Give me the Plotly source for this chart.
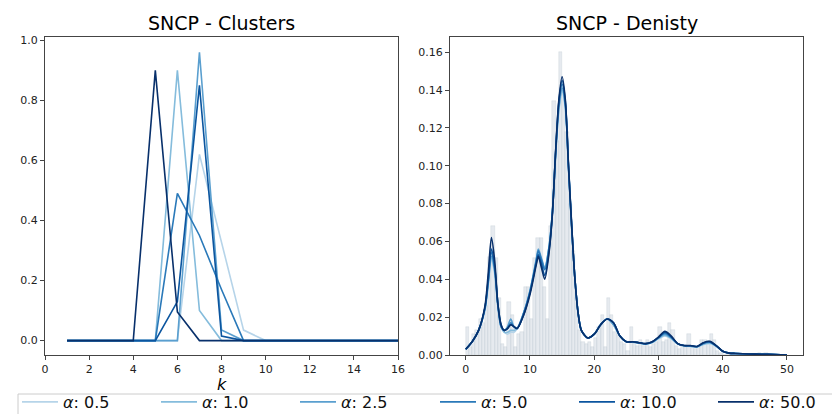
import plotly.graph_objects as go

# ---------------- data ----------------
alpha_labels = ["0.5", "1.0", "2.5", "5.0", "10.0", "50.0"]
colors = ["#b6d4e9", "#85bcdc", "#5a9fcf", "#2a79b9", "#0b559f", "#08306b"]

k_values = list(range(1, 17))
clusters_a05 = [0, 0, 0, 0, 0, 0, 0.62, 0.33, 0.035, 0, 0, 0, 0, 0, 0, 0]
clusters_a10 = [0, 0, 0, 0, 0, 0.90, 0.10, 0, 0, 0, 0, 0, 0, 0, 0, 0]
clusters_a25 = [0, 0, 0, 0, 0, 0, 0.96, 0.035, 0, 0, 0, 0, 0, 0, 0, 0]
clusters_a50 = [0, 0, 0, 0, 0, 0.49, 0.35, 0.17, 0, 0, 0, 0, 0, 0, 0, 0]
clusters_a100 = [0, 0, 0, 0, 0, 0.13, 0.85, 0.015, 0, 0, 0, 0, 0, 0, 0, 0]
clusters_a500 = [0, 0, 0, 0, 0.90, 0.095, 0, 0, 0, 0, 0, 0, 0, 0, 0, 0]

# histogram (density), bins of width 0.5 starting at 0
hist_bin_width = 0.5
hist_heights = [
    0.015, 0.004, 0.011, 0.013, 0.019, 0.017, 0.026, 0.052, 0.068, 0.051,   # 0-5
    0.030, 0.006, 0.004, 0.028, 0.021, 0.004, 0.011, 0.012, 0.036, 0.036,   # 5-10
    0.019, 0.051, 0.062, 0.062, 0.036, 0.019, 0.068, 0.134, 0.113, 0.160,   # 10-15
    0.141, 0.118, 0.080, 0.055, 0.030, 0.013, 0.007, 0.006, 0.007, 0.004,   # 15-20
    0.009, 0.015, 0.021, 0.004, 0.030, 0.021, 0.012, 0.011, 0.007, 0.006,   # 20-25
    0.002, 0.015, 0.007, 0.005, 0.008, 0.005, 0.008, 0.004, 0.006, 0.007,   # 25-30
    0.015, 0.007, 0.008, 0.017, 0.013, 0.005, 0.003, 0.005, 0.004, 0.011,   # 30-35
    0.005, 0.003, 0.004, 0.008, 0.008, 0.006, 0.011, 0.008, 0.002, 0.001,   # 35-40
    0.000, 0.000, 0.001, 0.000, 0.001, 0.000, 0.000, 0.000, 0.000, 0.000,   # 40-45
    0.000, 0.001, 0.000, 0.001, 0.000,                                      # 45-47.5
]

kde_x = [0, 1, 2, 3, 3.5, 4, 4.5, 5, 5.5, 6, 6.5, 7, 7.5, 8, 9, 10, 11, 11.3, 11.8, 12.3,
         13, 13.5, 14, 14.5, 15, 15.5, 16, 16.5, 17, 17.5, 18, 19, 20, 21, 22, 23, 24, 25,
         26, 27, 28, 29, 30, 31, 32, 33, 34, 35, 36, 37, 38, 39, 40, 41, 42, 44, 46, 48, 50]

kde_a05 = [0.003, 0.007, 0.013, 0.024, 0.037, 0.050, 0.043, 0.026, 0.015, 0.012, 0.011, 0.012, 0.012, 0.014,
           0.022, 0.034, 0.050, 0.054, 0.050, 0.046, 0.058, 0.076, 0.106, 0.129, 0.139, 0.130, 0.098,
           0.067, 0.040, 0.022, 0.013, 0.009, 0.011, 0.016, 0.019, 0.016, 0.010, 0.007, 0.0068, 0.0063,
           0.0058, 0.0065, 0.0085, 0.0100, 0.0085, 0.0058, 0.0048, 0.0045, 0.0042, 0.0055, 0.0060,
           0.0045, 0.0020, 0.0010, 0.0008, 0.0005, 0.0004, 0.0002, 0.0]
kde_a10 = [0.003, 0.007, 0.013, 0.024, 0.038, 0.051, 0.044, 0.026, 0.015, 0.012, 0.012, 0.013, 0.013, 0.014,
           0.022, 0.034, 0.050, 0.054, 0.050, 0.046, 0.058, 0.076, 0.106, 0.130, 0.140, 0.131, 0.099,
           0.067, 0.040, 0.022, 0.013, 0.009, 0.011, 0.016, 0.019, 0.016, 0.010, 0.007, 0.0068, 0.0063,
           0.0058, 0.0066, 0.0088, 0.0105, 0.0088, 0.0058, 0.0048, 0.0046, 0.0043, 0.0057, 0.0063,
           0.0046, 0.0020, 0.0010, 0.0008, 0.0005, 0.0004, 0.0002, 0.0]
kde_a25 = [0.003, 0.007, 0.013, 0.025, 0.038, 0.052, 0.045, 0.026, 0.015, 0.013, 0.015, 0.019, 0.015, 0.014,
           0.022, 0.034, 0.051, 0.056, 0.051, 0.046, 0.058, 0.076, 0.107, 0.131, 0.141, 0.132, 0.099,
           0.067, 0.040, 0.022, 0.013, 0.009, 0.011, 0.016, 0.019, 0.016, 0.010, 0.007, 0.0069, 0.0064,
           0.0059, 0.0067, 0.0090, 0.0110, 0.0090, 0.0059, 0.0049, 0.0047, 0.0044, 0.0060, 0.0066,
           0.0047, 0.0020, 0.0010, 0.0008, 0.0005, 0.0004, 0.0002, 0.0]
kde_a50 = [0.003, 0.007, 0.013, 0.025, 0.039, 0.054, 0.046, 0.027, 0.015, 0.013, 0.014, 0.017, 0.015, 0.014,
           0.022, 0.033, 0.050, 0.055, 0.050, 0.045, 0.057, 0.076, 0.107, 0.133, 0.143, 0.133, 0.099,
           0.067, 0.040, 0.022, 0.013, 0.009, 0.011, 0.016, 0.019, 0.017, 0.010, 0.007, 0.0069, 0.0064,
           0.0059, 0.0068, 0.0092, 0.0115, 0.0093, 0.0060, 0.0049, 0.0048, 0.0044, 0.0062, 0.0068,
           0.0048, 0.0020, 0.0010, 0.0008, 0.0005, 0.0004, 0.0002, 0.0]
kde_a100 = [0.003, 0.007, 0.013, 0.025, 0.040, 0.056, 0.047, 0.027, 0.016, 0.013, 0.014, 0.016, 0.015, 0.014,
            0.021, 0.033, 0.049, 0.053, 0.048, 0.042, 0.056, 0.075, 0.108, 0.134, 0.145, 0.134, 0.100,
            0.068, 0.040, 0.022, 0.013, 0.009, 0.011, 0.016, 0.019, 0.017, 0.010, 0.007, 0.0070, 0.0065,
            0.0060, 0.0069, 0.0093, 0.0120, 0.0096, 0.0060, 0.0050, 0.0049, 0.0045, 0.0064, 0.0070,
            0.0049, 0.0020, 0.0010, 0.0008, 0.0005, 0.0004, 0.0002, 0.0]
kde_a500 = [0.003, 0.007, 0.013, 0.026, 0.043, 0.062, 0.050, 0.027, 0.016, 0.013, 0.014, 0.016, 0.015, 0.014,
            0.021, 0.032, 0.048, 0.052, 0.046, 0.040, 0.055, 0.075, 0.108, 0.135, 0.147, 0.135, 0.100,
            0.068, 0.040, 0.022, 0.013, 0.009, 0.011, 0.016, 0.019, 0.017, 0.010, 0.007, 0.0070, 0.0065,
            0.0060, 0.0070, 0.0095, 0.0125, 0.0100, 0.0060, 0.0050, 0.0050, 0.0045, 0.0065, 0.0072,
            0.0050, 0.0020, 0.0010, 0.0008, 0.0005, 0.0004, 0.0002, 0.0]

cluster_series = [clusters_a05, clusters_a10, clusters_a25, clusters_a50, clusters_a100, clusters_a500]
kde_series = [kde_a05, kde_a10, kde_a25, kde_a50, kde_a100, kde_a500]

# ---------------- figure ----------------
W, H = 840, 414
fig = go.Figure()

hist_x = [i * hist_bin_width + hist_bin_width / 2 for i in range(len(hist_heights))]
fig.add_trace(go.Bar(
    x=hist_x, y=hist_heights, width=hist_bin_width,
    marker=dict(color="rgba(205,213,224,0.5)", line=dict(color="rgba(185,193,205,0.5)", width=0.5)),
    xaxis="x2", yaxis="y2", showlegend=False, hoverinfo="skip"))

for i, (lab, col, ys) in enumerate(zip(alpha_labels, colors, cluster_series)):
    fig.add_trace(go.Scatter(
        x=k_values, y=ys, mode="lines", line=dict(color=col, width=1.6),
        name="<i>α</i>: " + lab, xaxis="x", yaxis="y",
        legend="legend" if i < 3 else "legend2"))

for lab, col, ys in zip(alpha_labels, colors, kde_series):
    fig.add_trace(go.Scatter(
        x=kde_x, y=ys, mode="lines", line=dict(color=col, width=1.6, shape="spline", smoothing=0.8),
        name="<i>α</i>: " + lab, xaxis="x2", yaxis="y2", showlegend=False))

ax_common = dict(showline=True, mirror=True, linecolor="#444444", linewidth=1,
                 ticks="outside", ticklen=4, tickcolor="#444444", showgrid=False, zeroline=False,
                 tickfont=dict(size=11, color="#222222", family="DejaVu Sans"))
ydom = [67 / H, 385 / H]

leg_common = dict(orientation="h", xanchor="left", yanchor="top", y=(H - 377) / H,
                  borderwidth=0, bgcolor="rgba(0,0,0,0)", itemwidth=36,
                  font=dict(size=16, family="DejaVu Sans", color="#111111"),
                  entrywidth=88, entrywidthmode="pixels")

fig.update_layout(
    width=W, height=H, margin=dict(l=0, r=0, t=0, b=0, autoexpand=False),
    paper_bgcolor="white", plot_bgcolor="white",
    font=dict(family="DejaVu Sans", color="#111111"),
    bargap=0,
    xaxis=dict(domain=[37 / W, 390 / W], range=[0, 16], tickvals=list(range(0, 17, 2)), **ax_common),
    yaxis=dict(domain=ydom, range=[-0.048, 1.011], tickvals=[0, 0.2, 0.4, 0.6, 0.8, 1.0],
               ticktext=["0.0", "0.2", "0.4", "0.6", "0.8", "1.0"], anchor="x", **ax_common),
    xaxis2=dict(domain=[442 / W, 795 / W], range=[-2.45, 52.5], tickvals=[0, 10, 20, 30, 40, 50],
                anchor="y2", **ax_common),
    yaxis2=dict(domain=ydom, range=[0, 0.168], tickvals=[0, 0.02, 0.04, 0.06, 0.08, 0.10, 0.12, 0.14, 0.16],
                tickformat=".2f", anchor="x2", **ax_common),
    legend=dict(x=9 / W, **leg_common),
    legend2=dict(x=427 / W, **leg_common),
    shapes=[dict(type="rect", xref="paper", yref="paper", x0=10 / W, x1=832 / W,
                 y0=-0.02, y1=(H - 386) / H, line=dict(color="#cccccc", width=1), fillcolor="rgba(0,0,0,0)",
                 layer="below")],
    annotations=[
        dict(text="SNCP - Clusters", x=(37 + 390) / 2 / W, y=(H - 15) / H, xref="paper", yref="paper",
             showarrow=False, xanchor="center", yanchor="middle", font=dict(size=19, color="#000000")),
        dict(text="SNCP - Denisty", x=(442 + 795) / 2 / W, y=(H - 15) / H, xref="paper", yref="paper",
             showarrow=False, xanchor="center", yanchor="middle", font=dict(size=19, color="#000000")),
        dict(text="<i>k</i>", x=(37 + 390) / 2 / W, y=(H - 376) / H, xref="paper", yref="paper",
             showarrow=False, xanchor="center", yanchor="middle", font=dict(size=16, color="#000000")),
    ],
)

fig.write_html("out.html")
